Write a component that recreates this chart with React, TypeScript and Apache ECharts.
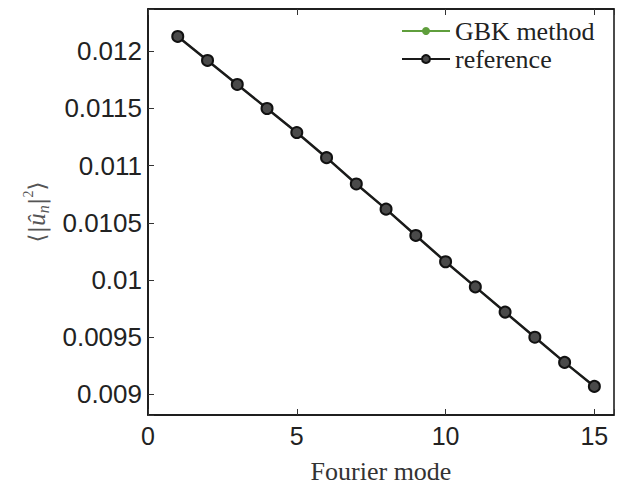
import React, { useEffect, useRef } from "react";
import * as echarts from "echarts";

const modes = [1, 2, 3, 4, 5, 6, 7, 8, 9, 10, 11, 12, 13, 14, 15];
const gbkValues = [0.01213, 0.01192, 0.01171, 0.0115, 0.01129, 0.01107, 0.01084, 0.01062, 0.01039, 0.01016, 0.00994, 0.00972, 0.0095, 0.00928, 0.00907];
const referenceValues = [0.01213, 0.01192, 0.01171, 0.0115, 0.01129, 0.01107, 0.01084, 0.01062, 0.01039, 0.01016, 0.00994, 0.00972, 0.0095, 0.00928, 0.00907];
const seriesNames = ["GBK method", "reference"];
const xTickStep = 5;
const yTickStep = 0.0005;

function isMultiple(v: number, step: number) {
  const r = v / step;
  return Math.abs(r - Math.round(r)) < 1e-6;
}

export default function App() {
  const ref = useRef<HTMLDivElement>(null);
  useEffect(() => {
    if (!ref.current) return;
    const chart = echarts.init(ref.current, undefined, { renderer: "svg" });
    const sans = "Liberation Sans";
    const serif = "Liberation Serif";
    chart.setOption({
      animation: false,
      backgroundColor: "#fff",
      grid: {
        left: 148,
        right: -2,
        top: 9,
        bottom: 62,
        show: true,
        borderColor: "#111",
        borderWidth: 1.5,
      },
      legend: {
        orient: "vertical",
        left: 401,
        top: 18,
        itemWidth: 48,
        itemHeight: 10,
        itemGap: 2,
        padding: 0,
        align: "left",
        textStyle: { fontFamily: serif, fontSize: 26, color: "#222", lineHeight: 23 },
        data: seriesNames,
      },
      xAxis: [
        {
          type: "value",
          min: 0,
          max: 15.66,
          interval: xTickStep,
          name: "Fourier mode",
          nameLocation: "middle",
          nameGap: 43,
          nameTextStyle: { fontFamily: serif, fontSize: 26, color: "#333" },
          axisLine: { show: true, lineStyle: { color: "#111", width: 1.5 } },
          axisTick: { show: true, inside: true, length: 6, lineStyle: { color: "#333" } },
          axisLabel: {
            fontFamily: sans,
            fontSize: 25,
            color: "#222",
            margin: 8,
            formatter: (v: number) => (isMultiple(v, xTickStep) ? String(Math.round(v)) : ""),
          },
          splitLine: { show: false },
        },
        {
          type: "value",
          position: "top",
          min: 0,
          max: 15.66,
          interval: xTickStep,
          axisLine: { show: true, lineStyle: { color: "#111", width: 1.5 } },
          axisTick: { show: true, inside: true, length: 6, lineStyle: { color: "#333" } },
          axisLabel: { show: false },
          splitLine: { show: false },
        },
      ],
      yAxis: {
        type: "value",
        min: 0.00882,
        max: 0.01237,
        splitNumber: 7,
        minInterval: yTickStep,
        maxInterval: yTickStep,
        name: "{a|⟨|}{u|û}{s|n}{a||}{p|2}{a|⟩}",
        nameLocation: "middle",
        nameRotate: 90,
        nameGap: 95,
        nameTextStyle: {
          color: "#444",
          rich: {
            a: { fontFamily: "DejaVu Serif", fontSize: 23, lineHeight: 30, color: "#555" },
            u: { fontFamily: serif, fontStyle: "italic", fontSize: 25, lineHeight: 30, color: "#555" },
            s: { fontFamily: serif, fontStyle: "italic", fontSize: 16, lineHeight: 14, verticalAlign: "bottom", color: "#555" },
            p: { fontFamily: serif, fontSize: 14, lineHeight: 14, verticalAlign: "top", color: "#555" },
          },
        },
        axisLine: { show: true, lineStyle: { color: "#111", width: 1.5 } },
        axisTick: { show: true, inside: true, length: 6, lineStyle: { color: "#333" } },
        axisLabel: {
          fontFamily: sans,
          fontSize: 26,
          color: "#222",
          margin: 6,
          formatter: (v: number) => (isMultiple(v, yTickStep) ? String(Number(v.toFixed(6))) : ""),
        },
        splitLine: { show: false },
      },
      series: [
        {
          name: seriesNames[0],
          type: "line",
          data: modes.map((m, i) => [m, gbkValues[i]]),
          symbol: "circle",
          symbolSize: 6,
          lineStyle: { color: "#5f9e3c", width: 1.5 },
          itemStyle: { color: "#5f9e3c" },
          z: 2,
        },
        {
          name: seriesNames[1],
          type: "line",
          data: modes.map((m, i) => [m, referenceValues[i]]),
          symbol: "circle",
          symbolSize: 11,
          lineStyle: { color: "#1a1a1a", width: 2.5 },
          itemStyle: { color: "#4a4a4a", borderColor: "#111", borderWidth: 2 },
          z: 3,
        },
      ],
    });
    return () => chart.dispose();
  }, []);
  return (
    <div
      ref={ref}
      style={{ position: "fixed", left: 0, top: 0, width: 617, height: 489 }}
    />
  );
}
